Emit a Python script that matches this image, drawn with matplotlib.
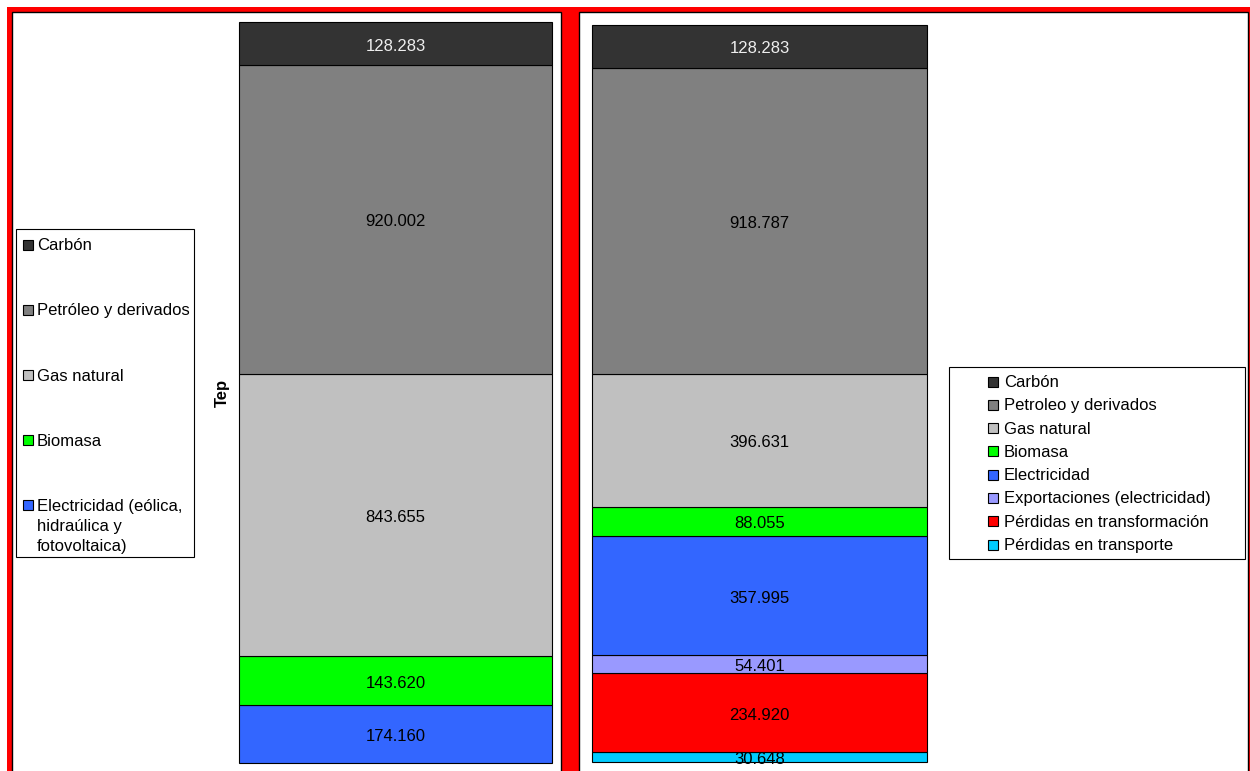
import matplotlib.pyplot as plt
from matplotlib.patches import Rectangle

plt.rcParams['font.family'] = ['Liberation Sans', 'DejaVu Sans']

# Energía primaria por fuente (tep), de abajo hacia arriba
fuentes = ["Electricidad (eólica,\nhidraúlica y\nfotovoltaica)", "Biomasa", "Gas natural",
           "Petróleo y derivados", "Carbón"]
valores_fuentes = [174160, 143620, 843655, 920002, 128283]
colores_fuentes = ["#3366FF", "#00FF00", "#C0C0C0", "#808080", "#333333"]

# Destino de la energía (tep), de abajo hacia arriba
destinos = ["Pérdidas en transporte", "Pérdidas en transformación", "Exportaciones (electricidad)",
            "Electricidad", "Biomasa", "Gas natural", "Petroleo y derivados", "Carbón"]
valores_destinos = [30648, 234920, 54401, 357995, 88055, 396631, 918787, 128283]
colores_destinos = ["#00CCFF", "#FF0000", "#9999FF", "#3366FF", "#00FF00", "#C0C0C0", "#808080", "#333333"]

W, H = 1250, 771


def fx(x):
    return x / W


def fy(y):
    return 1 - y / H


fig = plt.figure(figsize=(W / 100, H / 100), dpi=100)

# marco rojo y los dos paneles
fig.patches.append(Rectangle((fx(7), fy(800)), 1, (800 - 7) / H, transform=fig.transFigure,
                             facecolor="#FF0000", edgecolor="none", zorder=-3))
for x0, x1 in [(12, 561), (579, 1248)]:
    fig.patches.append(Rectangle((fx(x0), fy(800)), (x1 - x0) / W, (800 - 12) / H,
                                 transform=fig.transFigure, facecolor="white",
                                 edgecolor="black", linewidth=1, zorder=-2))


def barra(caja, valores, colores):
    x0, y0, x1, y1 = caja
    ax = fig.add_axes([fx(x0), fy(y1), (x1 - x0) / W, (y1 - y0) / H])
    base = 0
    for v, c in zip(valores, colores):
        ax.bar(0, v, bottom=base, width=1, color=c, edgecolor="black", linewidth=0.8, clip_on=False)
        texto = f"{v:,}".replace(",", ".")
        color_txt = "#EEEEEE" if c == "#333333" else "black"
        ax.annotate(texto, (0, base + v / 2), xytext=(0, -2.5), textcoords="offset pixels",
                    ha="center", va="center", fontsize=12, color=color_txt, annotation_clip=False)
        base += v
    ax.set_xlim(-0.5, 0.5)
    ax.set_ylim(0, base)
    ax.axis("off")
    return ax


def leyenda(caja, nombres, colores, y_primera, paso, x_cuadro, x_texto):
    x0, y0, x1, y1 = caja
    fig.patches.append(Rectangle((fx(x0), fy(y1)), (x1 - x0) / W, (y1 - y0) / H,
                                 transform=fig.transFigure, facecolor="white",
                                 edgecolor="black", linewidth=0.8))
    for i, (nombre, color) in enumerate(zip(nombres, colores)):
        y = y_primera + i * paso
        fig.patches.append(Rectangle((fx(x_cuadro), fy(y + 5)), 10 / W, 10 / H,
                                     transform=fig.transFigure, facecolor=color,
                                     edgecolor="black", linewidth=0.8))
        for k, linea in enumerate(nombre.split("\n")):
            fig.text(fx(x_texto), fy(y + 1 + k * 20), linea, ha="left", va="center", fontsize=12)


barra((239, 22, 552, 763), valores_fuentes, colores_fuentes)
barra((592, 25, 927, 762), valores_destinos, colores_destinos)

leyenda((16, 229, 194, 557), fuentes[::-1], colores_fuentes[::-1], 245, 65, 23, 37)
leyenda((949, 367, 1245, 559), destinos[::-1], colores_destinos[::-1], 381.5, 23.3, 988, 1004)

fig.text(fx(222), fy(393), "Tep", rotation=90, fontweight="bold", fontsize=12,
         ha="center", va="center")

fig.savefig("out.png", dpi=100)
